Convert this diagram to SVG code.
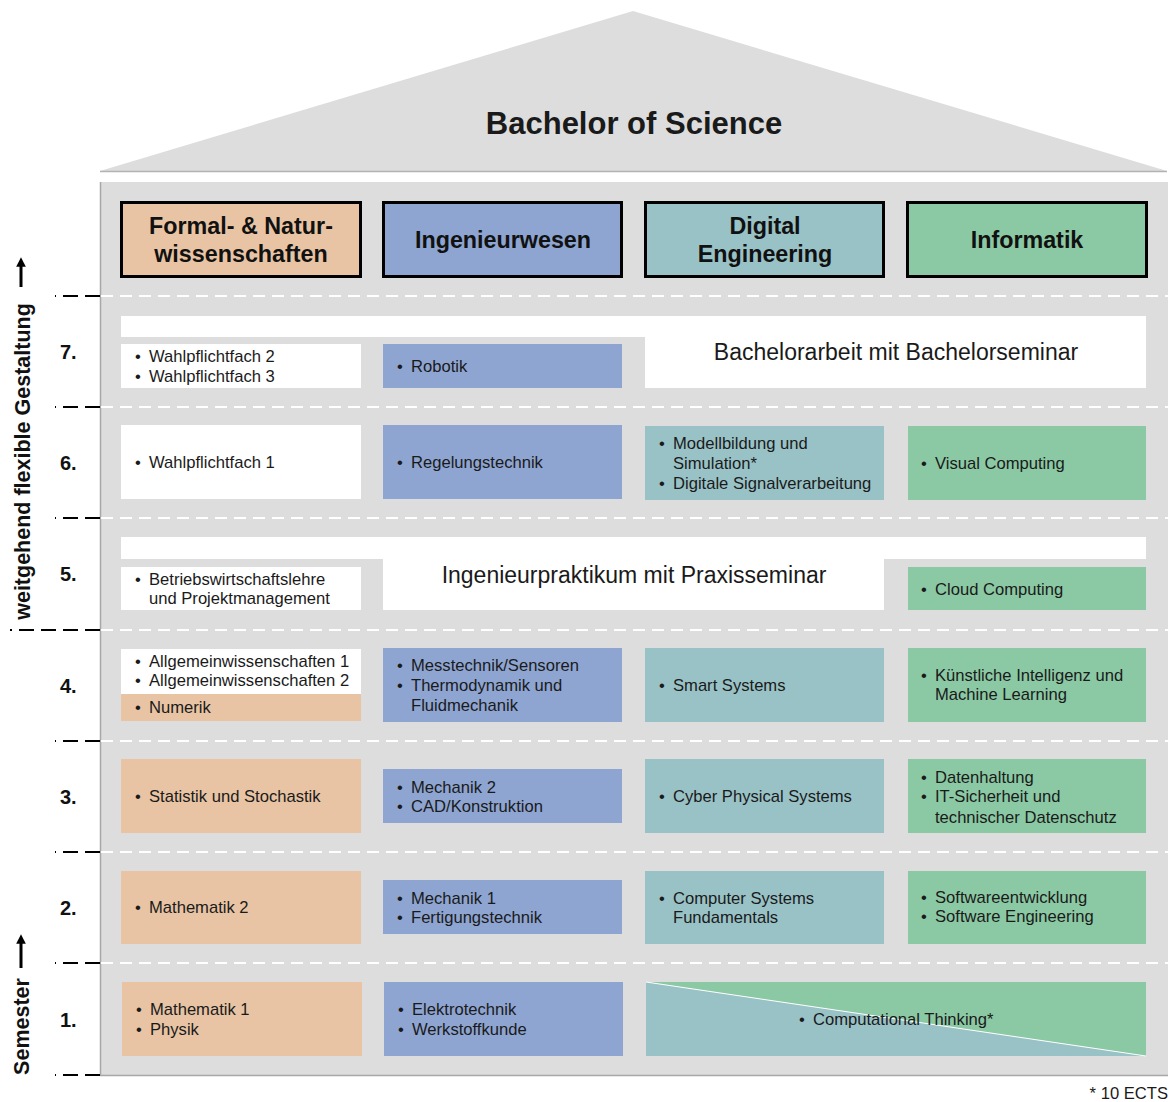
<svg xmlns="http://www.w3.org/2000/svg" width="1174" height="1102" viewBox="0 0 1174 1102">
<style>
text{font-family:"Liberation Sans",Arial,sans-serif;fill:#1a1a1a}
.t{font-size:16.6px}
.big{font-size:23px}
.hd{font-size:23.3px;font-weight:bold;text-anchor:middle;fill:#111}
.num{font-size:20px;font-weight:bold;fill:#111}
.ax{font-size:21.5px;font-weight:bold;text-anchor:middle;fill:#111}
.peach{fill:#e8c4a4}
.blue{fill:#8ea5d2}
.teal{fill:#99c2c7}
.green{fill:#8bc9a4}
.white{fill:#ffffff}
.hbox{stroke:#000;stroke-width:3}
.sep{stroke:#ffffff;stroke-width:2;stroke-dasharray:12 7}
.tick{stroke:#000;stroke-width:2;stroke-dasharray:15 7}
</style>
<defs>
<marker id="arr" viewBox="0 0 10 10" refX="5" refY="5" markerWidth="3.2" markerHeight="3.2" orient="auto">
<path d="M0,0 L10,5 L0,10 z" fill="#000"/>
</marker>
</defs>

<g id="roof">
<polygon points="100,171 633,11 1167,171" fill="#dddddd"/>
<line x1="100" y1="171.5" x2="1167" y2="171.5" stroke="#b3b3b3" stroke-width="1.5"/>
<text x="634" y="134" font-size="31" font-weight="bold" text-anchor="middle" fill="#111">Bachelor of Science</text>
</g>

<g id="body">
<rect x="100" y="182" width="1068" height="893" fill="#dddddd"/>
<line x1="100.5" y1="182" x2="100.5" y2="1076" stroke="#a8a8a8" stroke-width="1.5"/>
<line x1="100" y1="1075.5" x2="1168" y2="1075.5" stroke="#a8a8a8" stroke-width="1.5"/>
</g>

<g id="separators">
<line class="sep" x1="101" y1="296" x2="1168" y2="296"/>
<line class="sep" x1="101" y1="407" x2="1168" y2="407"/>
<line class="sep" x1="101" y1="518" x2="1168" y2="518"/>
<line class="sep" x1="101" y1="630" x2="1168" y2="630"/>
<line class="sep" x1="101" y1="741" x2="1168" y2="741"/>
<line class="sep" x1="101" y1="852" x2="1168" y2="852"/>
<line class="sep" x1="101" y1="963" x2="1168" y2="963"/>
<line class="tick" x1="100" y1="296" x2="55" y2="296"/>
<line class="tick" x1="100" y1="407" x2="55" y2="407"/>
<line class="tick" x1="100" y1="518" x2="55" y2="518"/>
<line class="tick" x1="100" y1="630" x2="10" y2="630"/>
<line class="tick" x1="100" y1="741" x2="55" y2="741"/>
<line class="tick" x1="100" y1="852" x2="55" y2="852"/>
<line class="tick" x1="100" y1="963" x2="55" y2="963"/>
<line class="tick" x1="100" y1="1075" x2="55" y2="1075"/>
</g>

<g id="connectors">
<line x1="21" y1="287" x2="21" y2="262" stroke="#000" stroke-width="3" marker-end="url(#arr)"/>
<line x1="21" y1="968" x2="21" y2="939" stroke="#000" stroke-width="3" marker-end="url(#arr)"/>
</g>

<g id="axis-labels">
<text class="ax" transform="translate(30,461.5) rotate(-90)">weitgehend flexible Gestaltung</text>
<text class="ax" transform="translate(29,1026.5) rotate(-90)">Semester</text>
<text class="num" x="60" y="359">7.</text>
<text class="num" x="60" y="470">6.</text>
<text class="num" x="60" y="581">5.</text>
<text class="num" x="60" y="693">4.</text>
<text class="num" x="60" y="804">3.</text>
<text class="num" x="60" y="915">2.</text>
<text class="num" x="60" y="1027">1.</text>
</g>

<g id="header-formal">
<rect class="hbox peach" x="121.5" y="202.5" width="239" height="74"/>
<text class="hd" x="241" y="234">Formal- &amp; Natur-</text>
<text class="hd" x="241" y="262">wissenschaften</text>
</g>
<g id="header-ingenieur">
<rect class="hbox blue" x="383.5" y="202.5" width="238" height="74"/>
<text class="hd" x="503" y="248">Ingenieurwesen</text>
</g>
<g id="header-digital">
<rect class="hbox teal" x="645.5" y="202.5" width="238" height="74"/>
<text class="hd" x="765" y="234">Digital</text>
<text class="hd" x="765" y="262">Engineering</text>
</g>
<g id="header-informatik">
<rect class="hbox green" x="907.5" y="202.5" width="239" height="74"/>
<text class="hd" x="1027" y="248">Informatik</text>
</g>

<!-- Semester 7 -->
<g id="s7-bachelorarbeit">
<polygon class="white" points="121,316 1146,316 1146,388 645,388 645,337 121,337"/>
<text class="big" x="896" y="360" text-anchor="middle">Bachelorarbeit mit Bachelorseminar</text>
</g>
<g id="s7-wahlpflicht">
<rect class="white" x="121" y="344" width="240" height="44"/>
<text class="t" x="135" y="362">•</text><text class="t" x="149" y="362">Wahlpflichtfach 2</text>
<text class="t" x="135" y="382">•</text><text class="t" x="149" y="382">Wahlpflichtfach 3</text>
</g>
<g id="s7-robotik">
<rect class="blue" x="383" y="344" width="239" height="44"/>
<text class="t" x="397" y="372">•</text><text class="t" x="411" y="372">Robotik</text>
</g>

<!-- Semester 6 -->
<g id="s6-wahlpflicht1">
<rect class="white" x="121" y="425" width="240" height="74"/>
<text class="t" x="135" y="468">•</text><text class="t" x="149" y="468">Wahlpflichtfach 1</text>
</g>
<g id="s6-regelung">
<rect class="blue" x="383" y="425" width="239" height="74"/>
<text class="t" x="397" y="468">•</text><text class="t" x="411" y="468">Regelungstechnik</text>
</g>
<g id="s6-modell">
<rect class="teal" x="645" y="426" width="239" height="74"/>
<text class="t" x="659" y="449">•</text><text class="t" x="673" y="449">Modellbildung und</text>
<text class="t" x="673" y="469">Simulation*</text>
<text class="t" x="659" y="489">•</text><text class="t" x="673" y="489">Digitale Signalverarbeitung</text>
</g>
<g id="s6-visual">
<rect class="green" x="908" y="426" width="238" height="74"/>
<text class="t" x="921" y="469">•</text><text class="t" x="935" y="469">Visual Computing</text>
</g>

<!-- Semester 5 -->
<g id="s5-praktikum">
<polygon class="white" points="121,537 1146,537 1146,559 884,559 884,610 383,610 383,559 121,559"/>
<text class="big" x="634" y="583" text-anchor="middle">Ingenieurpraktikum mit Praxisseminar</text>
</g>
<g id="s5-bwl">
<rect class="white" x="121" y="567" width="240" height="43"/>
<text class="t" x="135" y="585">•</text><text class="t" x="149" y="585">Betriebswirtschaftslehre</text>
<text class="t" x="149" y="604">und Projektmanagement</text>
</g>
<g id="s5-cloud">
<rect class="green" x="908" y="567" width="238" height="43"/>
<text class="t" x="921" y="595">•</text><text class="t" x="935" y="595">Cloud Computing</text>
</g>

<!-- Semester 4 -->
<g id="s4-allgemein">
<rect class="white" x="121" y="649" width="240" height="45"/>
<text class="t" x="135" y="667">•</text><text class="t" x="149" y="667">Allgemeinwissenschaften 1</text>
<text class="t" x="135" y="686">•</text><text class="t" x="149" y="686">Allgemeinwissenschaften 2</text>
</g>
<g id="s4-numerik">
<rect class="peach" x="121" y="694" width="240" height="27"/>
<text class="t" x="135" y="713">•</text><text class="t" x="149" y="713">Numerik</text>
</g>
<g id="s4-messtechnik">
<rect class="blue" x="383" y="648" width="239" height="74"/>
<text class="t" x="397" y="671">•</text><text class="t" x="411" y="671">Messtechnik/Sensoren</text>
<text class="t" x="397" y="691">•</text><text class="t" x="411" y="691">Thermodynamik und</text>
<text class="t" x="411" y="711">Fluidmechanik</text>
</g>
<g id="s4-smart">
<rect class="teal" x="645" y="648" width="239" height="74"/>
<text class="t" x="659" y="691">•</text><text class="t" x="673" y="691">Smart Systems</text>
</g>
<g id="s4-ki">
<rect class="green" x="908" y="648" width="238" height="74"/>
<text class="t" x="921" y="681">•</text><text class="t" x="935" y="681">Künstliche Intelligenz und</text>
<text class="t" x="935" y="700">Machine Learning</text>
</g>

<!-- Semester 3 -->
<g id="s3-statistik">
<rect class="peach" x="121" y="759" width="240" height="74"/>
<text class="t" x="135" y="802">•</text><text class="t" x="149" y="802">Statistik und Stochastik</text>
</g>
<g id="s3-mechanik2">
<rect class="blue" x="383" y="769" width="239" height="54"/>
<text class="t" x="397" y="793">•</text><text class="t" x="411" y="793">Mechanik 2</text>
<text class="t" x="397" y="812">•</text><text class="t" x="411" y="812">CAD/Konstruktion</text>
</g>
<g id="s3-cps">
<rect class="teal" x="645" y="759" width="239" height="74"/>
<text class="t" x="659" y="802">•</text><text class="t" x="673" y="802">Cyber Physical Systems</text>
</g>
<g id="s3-daten">
<rect class="green" x="908" y="759" width="238" height="74"/>
<text class="t" x="921" y="783">•</text><text class="t" x="935" y="783">Datenhaltung</text>
<text class="t" x="921" y="802">•</text><text class="t" x="935" y="802">IT-Sicherheit und</text>
<text class="t" x="935" y="823">technischer Datenschutz</text>
</g>

<!-- Semester 2 -->
<g id="s2-mathe2">
<rect class="peach" x="121" y="871" width="240" height="73"/>
<text class="t" x="135" y="913">•</text><text class="t" x="149" y="913">Mathematik 2</text>
</g>
<g id="s2-mechanik1">
<rect class="blue" x="383" y="880" width="239" height="54"/>
<text class="t" x="397" y="904">•</text><text class="t" x="411" y="904">Mechanik 1</text>
<text class="t" x="397" y="923">•</text><text class="t" x="411" y="923">Fertigungstechnik</text>
</g>
<g id="s2-computer">
<rect class="teal" x="645" y="871" width="239" height="73"/>
<text class="t" x="659" y="904">•</text><text class="t" x="673" y="904">Computer Systems</text>
<text class="t" x="673" y="923">Fundamentals</text>
</g>
<g id="s2-software">
<rect class="green" x="908" y="871" width="238" height="73"/>
<text class="t" x="921" y="903">•</text><text class="t" x="935" y="903">Softwareentwicklung</text>
<text class="t" x="921" y="922">•</text><text class="t" x="935" y="922">Software Engineering</text>
</g>

<!-- Semester 1 -->
<g id="s1-mathe1">
<rect class="peach" x="122" y="982" width="240" height="74"/>
<text class="t" x="136" y="1015">•</text><text class="t" x="150" y="1015">Mathematik 1</text>
<text class="t" x="136" y="1035">•</text><text class="t" x="150" y="1035">Physik</text>
</g>
<g id="s1-elektro">
<rect class="blue" x="384" y="982" width="239" height="74"/>
<text class="t" x="398" y="1015">•</text><text class="t" x="412" y="1015">Elektrotechnik</text>
<text class="t" x="398" y="1035">•</text><text class="t" x="412" y="1035">Werkstoffkunde</text>
</g>
<g id="s1-computational">
<rect class="teal" x="646" y="982" width="500" height="74"/>
<polygon class="green" points="646,982 1146,982 1146,1056"/>
<line x1="646" y1="982" x2="1146" y2="1056" stroke="#ffffff" stroke-width="1"/>
<text class="t" x="799" y="1025">•</text><text class="t" x="813" y="1025">Computational Thinking*</text>
</g>

<g id="footnote">
<text class="t" x="1168" y="1099" text-anchor="end">* 10 ECTS</text>
</g>
</svg>
